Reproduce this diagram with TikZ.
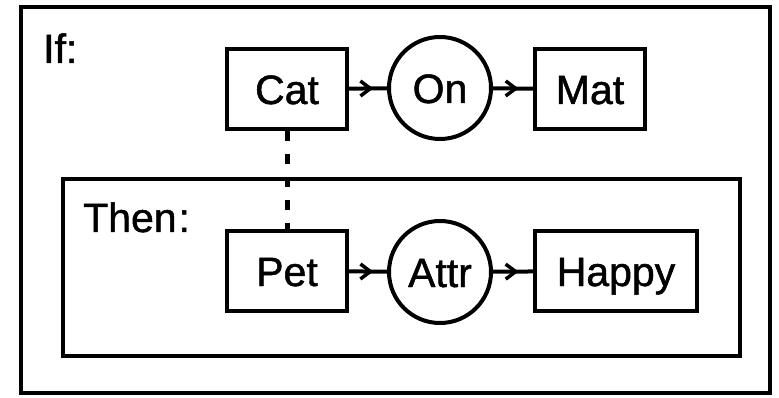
\documentclass[tikz,border=0pt]{standalone}
\usepackage{fontspec}
\setmainfont{Liberation Sans}
\newfontfamily\diagfont{Liberation Sans}[FakeBold=1.2]
\usetikzlibrary{decorations.markings,arrows.meta}
\begin{document}
\begin{tikzpicture}[x=1pt,y=-1pt,
  lbl/.style={font=\diagfont\fontsize{41}{48}\selectfont, inner sep=0pt},
  rbox/.style={draw, line width=4pt, minimum height=80pt, inner sep=0pt,
    font=\diagfont\fontsize{41}{48}\selectfont, text height=30pt, text depth=0pt},
  rel/.style={draw, circle, line width=4pt, minimum size=102pt, inner sep=0pt,
    font=\diagfont\fontsize{41}{48}\selectfont, text height=30pt, text depth=0pt},
  conn/.style={line width=4pt, postaction={decorate},
    decoration={markings, mark=at position 0.64 with {\arrow{Straight Barb[length=10pt,width=15pt,line width=3.5pt]}}}},
  link/.style={line width=5pt, dash pattern=on 10pt off 13pt}
]
\useasboundingbox (0,0) rectangle (779,398);
\draw[line width=4.5pt] (21,7) rectangle (770,393);
\draw[line width=4pt] (63,179) rectangle (740,356);
\node[lbl, anchor=base west] (iflbl) at (43,63) {If:};
\node[lbl, anchor=base west] (thenlbl) at (83,232) {Then\kern2pt:};
\node[rbox, minimum width=120pt] (cat) at (287,89) {Cat};
\node[rel] (on) at (440,88) {On};
\node[rbox, minimum width=110pt] (mat) at (590,89) {Mat};
\node[rbox, minimum width=120pt] (pet) at (287,271) {Pet};
\node[rel] (attr) at (440,272) {Attr};
\node[rbox, minimum width=162pt] (happy) at (616,271) {Happy};
\draw[conn] (cat) -- (on);
\draw[conn] (on) -- (mat);
\draw[conn] (pet) -- (attr);
\draw[conn] (attr) -- (happy);
\draw[link] (cat.south) -- (pet.north);
\end{tikzpicture}
\end{document}
